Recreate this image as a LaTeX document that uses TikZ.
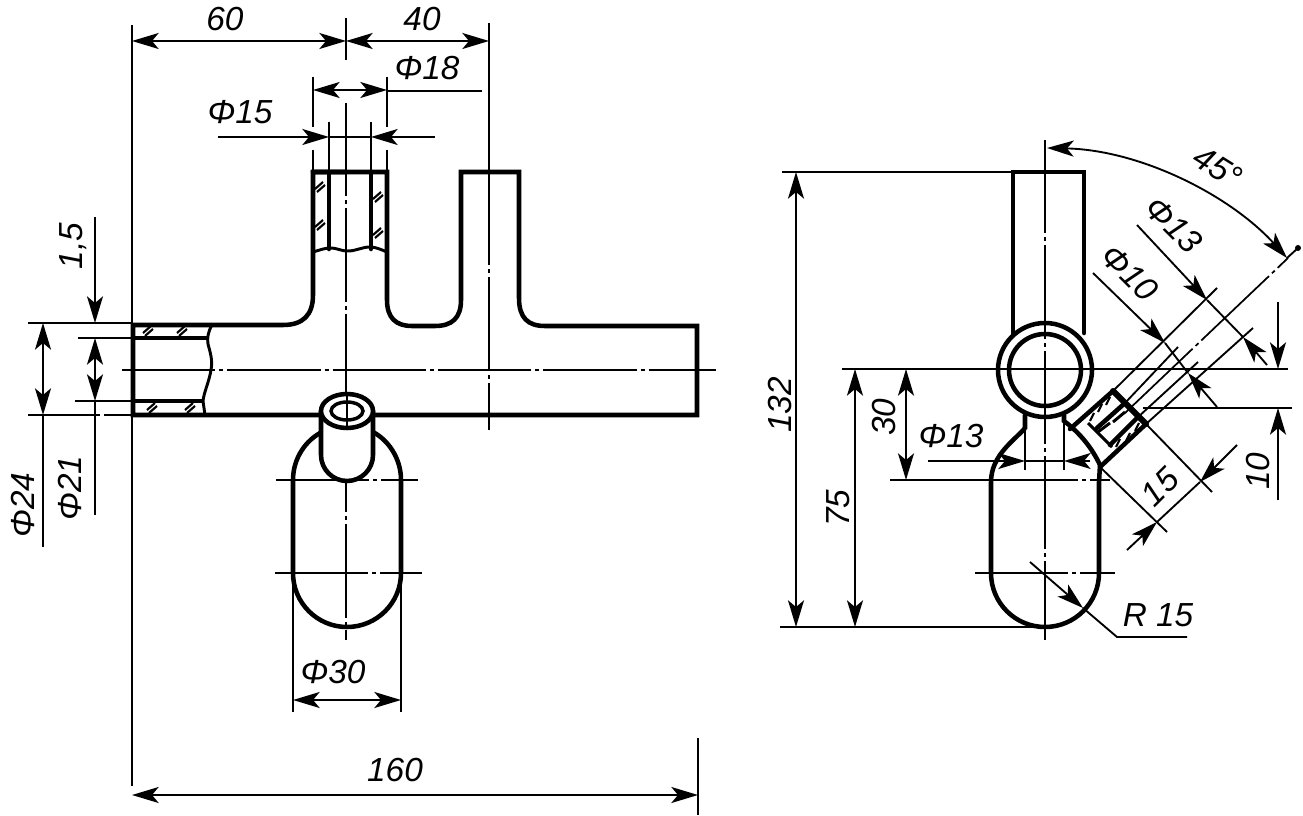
\documentclass[tikz,border=0pt]{standalone}
\usepackage{fontspec}
\setmainfont{Liberation Sans}
\usetikzlibrary{arrows.meta}
\tikzset{
  x=0.75pt,y=-0.75pt,
  >={Stealth[length=20pt,width=12pt,inset=5pt]},
  contour/.style={line width=3.4pt,line join=miter,line cap=round},
  midline/.style={line width=2.2pt},
  fine/.style={line width=1.4pt},
  axisline/.style={line width=1.3pt,dash pattern=on 70pt off 3pt on 3pt off 3pt},
  hatchmark/.style={line width=1.6pt},
  dimtext/.style={inner sep=0pt,font=\fontsize{25}{25}\selectfont\itshape}
}
\newcommand{\hatchpair}[2]{%
  \draw[hatchmark] (#1-5,#2+2) -- (#1+3,#2-5) (#1-3,#2+5) -- (#1+5,#2-2);}
\newcommand{\hatchtick}[2]{%
  \draw[hatchmark] (#1-2,#2+4) -- (#1+2,#2-4);}
\begin{document}
\begin{tikzpicture}
\useasboundingbox (0,0) rectangle (1303,816);
%% ---------- FRONT VIEW ----------
% extension lines
\draw[fine] (132,25) -- (132,786);
\draw[fine] (698,738) -- (698,815);
\draw[fine] (346,18) -- (346,60);
\draw[fine] (489,23) -- (489,172);
\draw[fine] (313,77) -- (313,127) (313,150) -- (313,172);
\draw[fine] (387,77) -- (387,127) (387,150) -- (387,172);
\draw[fine] (329,122) -- (329,172) (371,122) -- (371,172);
\draw[fine] (28,323) -- (133,323);
\draw[fine] (28,415) -- (100,415) (104,415) -- (133,415);
\draw[fine] (78,338) -- (133,338);
\draw[fine] (75,401) -- (133,401);
\draw[fine] (293,580) -- (293,712) (401,580) -- (401,712);
% centre lines
\draw[axisline] (346,103) -- (346,640);
\draw[axisline] (489,172) -- (489,430);
\draw[axisline] (122,370) -- (716,370);
\draw[axisline] (276,480) -- (418,480);
\draw[axisline] (275,573) -- (422,573);
% pipe and nozzles
\draw[contour] (346,172) -- (313,172) -- (313,295) .. controls (313,315) and (303,325) .. (283,325) -- (133,325) -- (133,415) -- (321,415);
\draw[contour] (313,172) -- (387,172) -- (387,300) .. controls (387,318) and (396,326) .. (412,326) -- (435,326) .. controls (452,326) and (461,318) .. (461,300) -- (461,172) -- (519,172) -- (519,298) .. controls (519,318) and (528,326) .. (545,326) -- (697,326) -- (697,415) -- (374,415);
% nozzle section
\draw[contour] (329,172) -- (329,249);
\draw[contour] (371,172) -- (371,249);
\draw[midline] (313,252) .. controls (320,250) and (325,248) .. (330,248) .. controls (338,248) and (340,251) .. (348,251) .. controls (356,251) and (362,247) .. (370,247) .. controls (376,247) and (382,250) .. (387,252);
\foreach \px/\py in {320/187,320/225,378/197,378/233}{\hatchpair{\px}{\py}}
% pipe section
\draw[midline,line width=2.8pt] (133,338) -- (208,338);
\draw[midline,line width=2.8pt] (133,401) -- (203,401);
\draw[midline] (212,325) .. controls (208,332) and (207,338) .. (208,344) .. controls (210,352) and (213,360) .. (211,370) .. controls (209,382) and (204,392) .. (203,401) -- (205,415);
\foreach \px/\py in {148/331,182/331,152/408,190/408}{\hatchpair{\px}{\py}}
% tank, front view
\draw[contour] (322,432) .. controls (306,440) and (293,458) .. (293,480) -- (293,573) arc[start angle=180,end angle=0,radius=54] -- (401,480) .. controls (401,458) and (388,440) .. (373,432);
\filldraw[contour,fill=white] (321,411) -- (321,455) arc[start angle=180,end angle=0,x radius=26,y radius=26] -- (373,411);
\draw[contour,fill=white] (347,411) ellipse[x radius=26,y radius=17];
\draw[contour,line width=2.6pt] (347,411) ellipse[x radius=16,y radius=9];
\draw[fine] (347,394) -- (347,428);
% dimensions, front view
\draw[fine,<->] (132,41) -- (346,41);
\draw[fine,<->] (346,41) -- (489,41);
\draw[fine,<->] (313,90) -- (387,90);
\draw[fine] (387,91) -- (482,91);
\draw[fine,->] (218,137) -- (329,137);
\draw[fine,->] (435,137) -- (371,137);
\draw[fine] (329,137) -- (371,137);
\draw[fine,<->] (43,323) -- (43,415);
\draw[fine] (43,415) -- (43,547);
\draw[fine,->] (95,217) -- (95,323);
\draw[fine,<->] (95,338) -- (95,401);
\draw[fine] (95,401) -- (95,515);
\draw[fine,<->] (293,700) -- (401,700);
\draw[fine,<->] (132,795) -- (698,795);
% labels, front view
\node[dimtext] (l60) at (225,19) {60};
\node[dimtext] (l40) at (422,19) {40};
\node[dimtext] (lp18) at (427,68) {Φ18};
\node[dimtext] (lp15) at (240,112) {Φ15};
\node[dimtext,rotate=90] (l15a) at (73,246) {1,5};
\node[dimtext,rotate=90] (lp24) at (23,505) {Φ24};
\node[dimtext,rotate=90] (lp21) at (70,488) {Φ21};
\node[dimtext] (lp30) at (333,672) {Φ30};
\node[dimtext] (l160) at (395,770) {160};
%% ---------- SIDE VIEW ----------
% extension lines
\draw[fine] (782,172) -- (1013,172);
\draw[fine] (780,627) -- (1040,627);
\draw[fine] (842,369) -- (1288,369);
\draw[fine] (890,480) -- (985,480);
\draw[fine] (1143,408) -- (1292,408);
% centre lines
\draw[axisline] (1045,140) -- (1045,640);
\draw[axisline] (985,480) -- (1110,480);
\draw[axisline] (975,573) -- (1115,573);
\draw[axisline] (1125,413) -- (1288,258);
% upper nozzle and body
\draw[contour] (1013,333) -- (1013,172) -- (1084,172) -- (1084,333);
\draw[contour] (1045,370) circle[radius=47];
\draw[contour] (1045,370) circle[radius=36];
% tank
\draw[contour] (1025,415) -- (1025,428) .. controls (1015,440) and (991,455) .. (991,482) -- (991,573) arc[start angle=180,end angle=0,radius=54] -- (1099,482) -- (1100,465) .. controls (1092,448) and (1080,433) .. (1064,421) -- (1064,415);
\draw[fine] (1025,428) -- (1025,470);
\draw[fine] (1064,421) -- (1064,470);
% angled nozzle
\draw[contour] (1070,429) -- (1113,391);
\draw[contour] (1100,467) -- (1146,424);
\draw[contour,line width=4.5pt] (1113,391) -- (1146,424);
\draw[contour] (1097,428) -- (1125,403);
\draw[contour] (1110,445) -- (1137,418);
\draw[midline] (1088,423) -- (1112,447);
\draw[midline] (1098,432) -- (1110,423) (1113,422) -- (1125,412);
\foreach \px/\py in {1092/417,1100/408,1108/401,1118/443,1128/437,1137/427}{\hatchtick{\px}{\py}}
% thin continuation of the nozzle walls
\draw[fine] (1113,391) -- (1217,288);
\draw[fine] (1146,424) -- (1253,328);
\draw[fine] (1125,403) -- (1178,347);
\draw[fine] (1137,418) -- (1198,362);
\draw[fine] (1146,424) -- (1212,492);
\draw[fine] (1100,467) -- (1167,532);
% dimensions, side view
\draw[fine,<->] (796,172) -- (796,627);
\draw[fine,<->] (855,369) -- (855,627);
\draw[fine,<->] (906,369) -- (906,480);
\draw[fine,->] (928,461) -- (1025,461);
\draw[fine,->] (1090,461) -- (1064,461);
\draw[fine] (1025,461) -- (1064,461);
\draw[fine,->] (1278,302) -- (1278,369);
\draw[fine,->] (1278,500) -- (1278,408);
\draw[fine,->] (1127,550) -- (1157,522);
\draw[fine,->] (1237,445) -- (1200,482);
\draw[fine] (1157,522) -- (1200,482);
\draw[fine,->] (1137,225) -- (1207,300);
\draw[fine,->] (1267,365) -- (1243,337);
\draw[fine] (1207,300) -- (1243,337);
\draw[fine,->] (1093,273) -- (1165,343);
\draw[fine,->] (1217,407) -- (1188,373);
\draw[fine] (1165,343) -- (1188,373);
\draw[fine,<->] (1047,148) .. controls (1140,150) and (1230,195) .. (1287,258);
\draw[fine] (1287,258) -- (1298,248);
\fill (1298,248) circle[radius=3];
\draw[fine,->] (1030,562) -- (1083,608);
\draw[fine] (1083,608) -- (1117,637) -- (1187,637);
% labels, side view
\node[dimtext,rotate=90] (l132) at (780,405) {132};
\node[dimtext,rotate=90] (l75) at (838,508) {75};
\node[dimtext,rotate=90] (l30) at (884,417) {30};
\node[dimtext] (lp13b) at (951,436) {Φ13};
\node[dimtext,rotate=-32] (l45) at (1218,167) {45°};
\node[dimtext,rotate=-45] (lp13a) at (1174,225) {Φ13};
\node[dimtext,rotate=-45] (lp10) at (1130,273) {Φ10};
\node[dimtext,rotate=45] (l15) at (1160,487) {15};
\node[dimtext,rotate=90] (l10) at (1258,471) {10};
\node[dimtext] (lr15) at (1158,615) {R 15};
\end{tikzpicture}
\end{document}
